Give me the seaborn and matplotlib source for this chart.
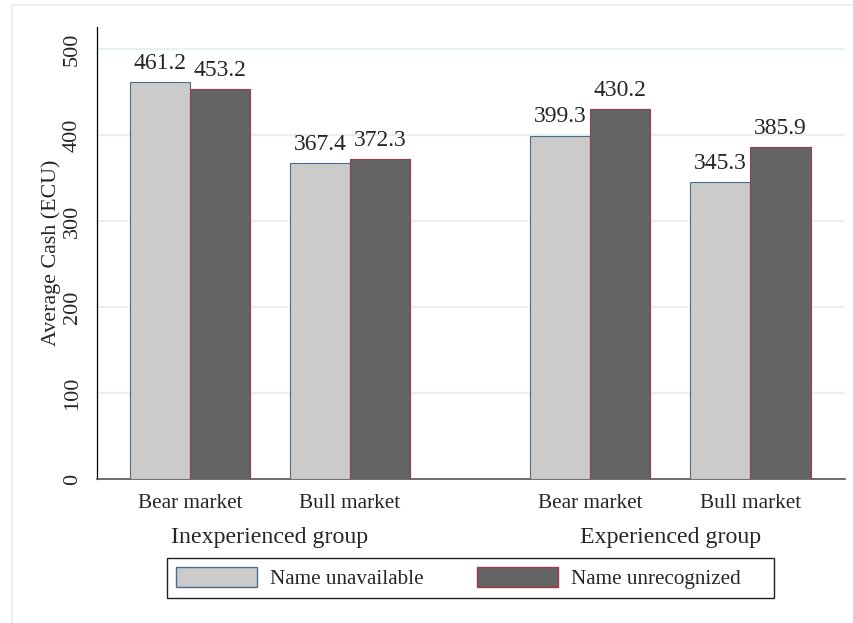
import seaborn as sns
import matplotlib.pyplot as plt
import matplotlib.patches as mpatches
import matplotlib.transforms as mtransforms
import pandas as pd

groups = ['Inexperienced group', 'Experienced group']
group_centers = [0.5, 3.0]
markets = ['Bear market', 'Bull market', 'Bear market', 'Bull market']
positions = [0, 1, 2.5, 3.5]
conditions = ['Name unavailable', 'Name unrecognized']
cash_unavailable = [461.2, 367.4, 399.3, 345.3]
cash_unrecognized = [453.2, 372.3, 430.2, 385.9]

rows = []
for i, pos in enumerate(positions):
    rows.append({'pos': pos, 'condition': conditions[0], 'cash': cash_unavailable[i]})
    rows.append({'pos': pos, 'condition': conditions[1], 'cash': cash_unrecognized[i]})
df = pd.DataFrame(rows)

sns.set_style('white')
plt.rcParams['font.family'] = ['Liberation Serif', 'DejaVu Serif']

fills = ['#cbcbcb', '#646464']
edges = ['#4a6d8c', '#a03a45']

fig = plt.figure(figsize=(8.54, 6.23), dpi=100)
ax = fig.add_axes([97 / 854, 1 - 479 / 623, (845 - 97) / 854, (479 - 27) / 623])

sns.barplot(data=df, x='pos', y='cash', hue='condition', native_scale=True,
            palette=fills, width=0.75, ax=ax, legend=False, zorder=3)

for cont, ec in zip(ax.containers, edges):
    for bar in cont:
        bar.set_edgecolor(ec)
        bar.set_linewidth(0.8)
    ax.bar_label(cont, fmt='%.1f', padding=6, fontsize=17)

ax.set_xlim(-0.58, 4.09)
ax.set_ylim(0, 525.6)
ax.set_yticks([0, 100, 200, 300, 400, 500])
ax.set_xticks(positions)
ax.set_xticklabels(markets, fontsize=15.3)
ax.tick_params(axis='x', length=0, pad=11)
ax.tick_params(axis='y', length=7, width=0.8, color='#333333', pad=4, labelsize=16)
for lab in ax.get_yticklabels():
    lab.set_rotation(90)
    lab.set_va('center')
ax.set_xlabel('')
ax.set_ylabel('Average Cash (ECU)', fontsize=15.8, labelpad=1)

ax.grid(axis='y', color='#e6eff1', linewidth=1.3, zorder=0)
ax.set_axisbelow(True)
for side in ['top', 'right']:
    ax.spines[side].set_visible(False)
ax.spines['left'].set_color('black')
ax.spines['left'].set_linewidth(0.9)
ax.spines['bottom'].set_color('#555555')
ax.spines['bottom'].set_linewidth(1.2)

# group labels under the market labels
blend = mtransforms.blended_transform_factory(ax.transData, fig.transFigure)
for name, cx in zip(groups, group_centers):
    ax.text(cx, 1 - 538 / 623, name, transform=blend, ha='center', va='center', fontsize=17.2)

handles = [mpatches.Patch(facecolor=f, edgecolor=e, linewidth=1.0) for f, e in zip(fills, edges)]
leg = fig.legend(handles, conditions, loc='center left', bbox_to_anchor=(156 / 854, 1 - 578 / 623),
                 ncol=2, fontsize=15.2, frameon=False, handlelength=3.85,
                 handleheight=1.05, handletextpad=0.62, columnspacing=2.5, borderpad=0.45)

# legend box drawn separately (wider on the right, as in the original)
fig.patches.append(mpatches.Rectangle((167 / 854, 1 - 598 / 623), (774 - 167) / 854, 40 / 623,
                                      transform=fig.transFigure, fill=False,
                                      edgecolor='#222222', linewidth=1.0))

# light outer frame as in the original export
fig.patches.append(mpatches.Rectangle((12 / 854, -0.1), 1.2, 1 - 5 / 623 + 0.1,
                                      transform=fig.transFigure, fill=False,
                                      edgecolor='#e4ecee', linewidth=1.2))

fig.savefig('out.png', dpi=100)
